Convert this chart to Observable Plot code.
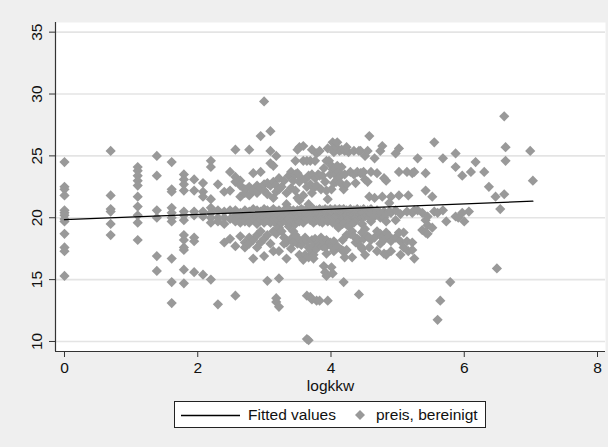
<!DOCTYPE html>
<html>
<head>
<meta charset="utf-8">
<script src="https://cdn.jsdelivr.net/npm/d3@7"></script>
<script src="https://cdn.jsdelivr.net/npm/@observablehq/plot@0.6"></script>
<style>
  html, body { margin: 0; padding: 0; background: #efefef; }
  #wrap { position: relative; width: 608px; height: 447px; background: #efefef; font-family: "Liberation Sans", Arial, sans-serif; }
  #chart { position: absolute; left: 0; top: 0; }
  #legend { position: absolute; left: 174px; top: 401px; width: 312px; height: 27px; background: #fff; border: 1px solid #222; box-sizing: border-box; font-size: 15.5px; color: #111; }
  #legend span, #legend svg { position: absolute; }
</style>
</head>
<body>
<div id="wrap">
  <div id="chart"></div>
  <div id="legend">
    <svg style="left:6px; top:6px" width="60" height="14"><line x1="0" x2="59" y1="7.5" y2="7.5" stroke="#000" stroke-width="1.3"/></svg>
    <span style="left:73px; top:4px">Fitted values</span>
    <svg style="left:180px; top:8px" width="10" height="10"><path d="M5,0L10,5L5,10L0,5Z" fill="#999"/></svg>
    <span style="left:201px; top:4px">preis, bereinigt</span>
  </div>
</div>
<script>
// x axis ticks, y axis ticks
const xTicks = [0, 2, 4, 6, 8];
const yTicks = [10, 15, 20, 25, 30, 35];

// Fitted values (regression line endpoints)
const fitX = [0, 7.03];
const fitY = [19.85, 21.34];

// preis, bereinigt vs logkkw: columns [logkkw, [preis values]]
const colsSmall = [
  [0, [24.5, 22.5, 22.3, 21.8, 20.6, 20.4, 20.2, 19.9, 19.7, 18.7, 17.6, 17.3, 15.3]],
  [0.693, [25.4, 21.8, 20.7, 20.5, 19.5, 18.6]],
  [1.099, [24.1, 23.8, 23.4, 23.0, 22.6, 21.7, 20.9, 20.2, 19.6, 18.2]],
  [1.386, [25.0, 23.4, 20.6, 20.0, 16.9, 15.7]],
  [1.609, [24.5, 22.3, 22.1, 20.8, 20.4, 20.0, 19.7, 16.7, 14.8, 13.1]],
  [1.792, [23.5, 23.1, 22.7, 22.2, 20.5, 20.2, 19.8, 18.6, 18.2, 17.6, 17.4, 15.8, 14.7]],
  [1.946, [23.1, 22.2, 20.5, 20.2, 18.4, 18.1, 15.6]],
  [2.079, [22.8, 22.1, 21.7, 20.5, 20.1, 15.4]],
  [2.197, [24.6, 24.1, 21.5, 20.8, 20.4, 20.0, 19.6, 15.0]],
  [2.303, [22.7, 20.6, 20.0, 19.7, 13.0]],
  [2.398, [22.1, 20.5, 20.0, 19.5, 18.0]],
  [2.485, [23.7, 22.2, 20.6, 19.9, 18.3]]
];
const colsMidA = [
  [2.565, [25.5, 23.3, 22.9, 20.6, 20.2, 19.7, 17.7, 13.7]],
  [2.639, [23.0, 22.6, 21.7, 20.4, 20.0, 19.6, 18.5]],
  [2.708, [22.3, 22.0, 20.6, 20.1, 19.7, 18.0, 17.6]],
  [2.773, [25.5, 22.5, 21.8, 20.5, 20.0, 19.6, 18.4, 17.9]],
  [2.833, [23.6, 22.2, 20.7, 20.3, 19.9, 18.2, 16.7]],
  [2.890, [22.6, 22.0, 20.6, 20.1, 19.5, 18.6, 17.6]],
  [2.944, [26.6, 23.7, 22.4, 20.5, 20.2, 19.8, 18.9, 18.0]],
  [2.996, [29.4, 22.7, 22.2, 20.7, 20.3, 20.0, 19.6, 18.3, 16.9]],
  [3.045, [22.8, 21.9, 20.6, 20.2, 19.8, 18.6, 14.9]],
  [3.091, [27.0, 25.4, 24.4, 22.6, 20.5, 20.1, 19.6, 17.9]],
  [3.135, [24.2, 22.9, 21.6, 20.7, 20.3, 19.9, 18.9, 17.3]],
  [3.178, [25.0, 22.6, 22.1, 20.5, 20.0, 19.5, 18.7, 13.5, 13.2]],
  [3.219, [23.2, 22.3, 20.6, 20.2, 19.8, 19.2, 17.3, 15.1, 12.8]],
  [3.258, [22.5, 20.4, 20.0, 19.6, 18.9]],
  [3.296, [23.0, 20.6, 20.2, 19.8, 18.4, 17.9]],
  [3.332, [22.0, 21.1, 20.5, 20.1, 19.7, 18.0, 16.7]],
  [3.367, [23.4, 20.7, 20.3, 19.9, 19.3]],
  [3.401, [23.7, 22.4, 20.5, 20.1, 19.7, 18.3, 17.5]],
  [3.434, [23.0, 20.6, 20.2, 19.8, 18.9, 18.0]],
  [3.466, [24.6, 23.5, 22.2, 20.4, 20.0, 19.5, 18.6]],
  [3.497, [25.5, 23.6, 21.6, 20.6, 20.2, 19.9, 17.9]],
  [3.526, [25.7, 22.9, 21.4, 20.5, 20.1, 19.7, 18.2, 17.0]],
  [3.555, [23.2, 20.7, 20.3, 19.8, 17.8]],
  [3.584, [25.8, 24.6, 21.8, 20.6, 20.2, 19.6, 18.1, 16.6]],
  [3.611, [23.1, 20.4, 20.0, 18.4, 17.0]],
  [3.638, [24.6, 22.5, 20.7, 20.3, 19.9, 18.1, 13.7, 10.2]],
  [3.664, [23.4, 21.1, 20.5, 20.1, 17.6, 16.8, 10.1]],
  [3.689, [24.6, 22.7, 20.6, 20.2, 19.8, 17.4, 13.6]],
  [3.714, [25.5, 23.5, 22.0, 20.4, 20.0, 18.2, 13.4]],
  [3.738, [22.4, 20.7, 20.3, 19.6, 17.8, 17.0, 16.7]]
];
const colsMidB = [
  [3.761, [24.6, 23.2, 20.5, 20.1, 18.3]],
  [3.784, [25.2, 22.6, 20.6, 20.2, 19.8, 17.5, 13.3]],
  [3.807, [23.5, 20.4, 20.0, 18.0]],
  [3.829, [25.4, 23.4, 20.7, 20.3, 19.7, 17.8, 13.3]],
  [3.850, [22.3, 20.5, 20.1, 18.4]],
  [3.871, [23.4, 20.6, 20.2, 19.6, 17.7]],
  [3.892, [24.0, 20.4, 20.0, 18.1, 16.1]],
  [3.912, [22.9, 20.7, 20.3, 19.9, 17.6, 15.6]],
  [3.932, [24.6, 22.2, 20.5, 20.1, 18.2, 17.1, 15.3]],
  [3.951, [25.6, 21.5, 20.6, 20.2, 19.7, 13.3]],
  [3.970, [24.6, 20.4, 20.0, 17.9]],
  [3.989, [23.5, 20.7, 20.3, 19.8, 18.0]],
  [4.007, [24.2, 22.3, 20.5, 20.1, 17.8, 16.0]],
  [4.025, [26.1, 25.6, 23.9, 20.6, 20.2, 19.6, 17.6, 15.5]],
  [4.043, [25.3, 22.8, 20.4, 20.0, 18.1, 17.3]],
  [4.060, [24.0, 23.5, 20.7, 20.3, 19.9]],
  [4.078, [25.7, 22.9, 20.5, 20.1, 19.5]],
  [4.094, [26.1, 24.2, 23.1, 20.6, 20.2, 17.7]],
  [4.111, [23.7, 20.4, 20.0, 19.2]],
  [4.127, [25.4, 23.3, 20.7, 20.3]],
  [4.143, [22.8, 20.5, 20.1, 19.7]],
  [4.159, [25.5, 24.1, 20.6, 20.2, 17.4]],
  [4.174, [20.4, 20.0, 19.5, 18.2]],
  [4.190, [22.3, 20.7, 20.3, 19.9, 17.3, 14.8]],
  [4.205, [25.4, 23.5, 20.5, 20.1, 19.6, 16.8]],
  [4.234, [25.7, 22.7, 20.6, 20.2, 18.6, 17.4]],
  [4.263, [25.3, 20.4, 20.0, 19.3]],
  [4.290, [23.7, 20.7, 20.3, 19.8, 18.7]],
  [4.317, [20.5, 20.1, 18.9, 16.8]],
  [4.344, [25.4, 23.5, 20.6, 20.2, 19.6, 18.5]]
];
const colsLarge = [
  [4.369, [22.8, 20.4, 20.0, 18.0]],
  [4.394, [23.7, 20.7, 20.3, 19.9, 18.3]],
  [4.419, [25.4, 20.5, 20.1, 18.2, 13.8]],
  [4.443, [25.4, 23.6, 20.6, 20.2, 17.7]],
  [4.466, [23.6, 20.4, 20.0, 19.5, 18.8, 17.5]],
  [4.489, [23.7, 20.7, 20.3, 18.3]],
  [4.511, [25.0, 23.1, 20.5, 20.1, 19.1, 17.0]],
  [4.550, [25.4, 22.9, 20.6, 20.2, 18.5]],
  [4.575, [26.6, 21.7, 20.4, 20.0, 18.4, 17.6]],
  [4.600, [23.7, 20.7, 20.3, 19.7, 18.2]],
  [4.654, [24.8, 21.6, 20.5, 20.1, 18.4]],
  [4.691, [23.6, 20.6, 18.9, 17.3]],
  [4.740, [25.4, 20.4, 20.0, 18.7, 17.9]],
  [4.770, [25.8, 21.7, 20.2, 18.4]],
  [4.796, [23.2, 20.5, 20.0, 18.2, 17.1]],
  [4.828, [23.0, 20.3, 19.7, 18.8, 17.0]],
  [4.875, [21.2, 20.5, 18.5]],
  [4.900, [21.7, 20.4, 18.1, 17.3]],
  [4.970, [25.2, 20.6, 19.8, 18.4]],
  [5.020, [25.6, 23.7, 21.8, 18.8]],
  [5.043, [20.3, 18.1, 17.0]],
  [5.090, [18.8, 17.6]],
  [5.140, [23.7, 20.5, 18.1]],
  [5.160, [21.8, 17.3]],
  [5.220, [23.6, 20.4, 18.0, 17.4]],
  [5.250, [23.7, 20.6, 16.7]],
  [5.300, [24.8, 20.6]],
  [5.370, [20.4, 19.0]],
  [5.420, [23.6, 22.2, 19.8, 18.8]],
  [5.450, [20.1, 19.4, 18.7]],
  [5.520, [21.7, 19.2]],
  [5.550, [26.1, 20.5]],
  [5.600, [20.4, 11.75]],
  [5.640, [13.3]],
  [5.680, [24.8, 20.6]],
  [5.730, [19.7]],
  [5.790, [14.8]],
  [5.870, [25.2, 24.1, 20.1]],
  [5.910, [20.0]],
  [5.970, [23.4, 20.4]],
  [6.000, [19.7]],
  [6.070, [20.5]],
  [6.100, [23.7]],
  [6.170, [24.5]],
  [6.300, [23.7]],
  [6.370, [22.5]],
  [6.470, [21.7]],
  [6.490, [15.9]],
  [6.540, [20.7]],
  [6.600, [28.2, 21.9]],
  [6.620, [25.7, 24.6]],
  [6.990, [25.4]],
  [7.030, [23.0]]
];

const points = [...colsSmall, ...colsMidA, ...colsMidB, ...colsLarge]
  .flatMap(([x, ys]) => ys.map(y => ({logkkw: x, preis: y})));
const fitted = fitX.map((x, i) => ({logkkw: x, fit: fitY[i]}));

const xDomain = [-0.135, 8.12];
const yDomain = [9.19, 35.78];

const chart = Plot.plot({
  width: 608,
  height: 394,
  marginLeft: 55,
  marginRight: 3,
  marginTop: 22,
  marginBottom: 43,
  style: {background: "transparent", fontFamily: "'Liberation Sans', Arial, sans-serif", fontSize: "15.5px", color: "#111"},
  x: {domain: xDomain},
  y: {domain: yDomain},
  marks: [
    Plot.frame({fill: "white", stroke: "none"}),
    Plot.ruleY(yTicks, {stroke: "#e4e4e4", strokeWidth: 1.6}),
    Plot.dot(points, {x: "logkkw", y: "preis", symbol: "diamond2", r: 4.6, fill: "#999999", stroke: "none"}),
    Plot.line(fitted, {x: "logkkw", y: "fit", stroke: "#000", strokeWidth: 1.3}),
    Plot.ruleX([xDomain[0]], {stroke: "#333", strokeWidth: 1.2}),
    Plot.ruleY([yDomain[0]], {stroke: "#333", strokeWidth: 1.2}),
    Plot.axisX({ticks: xTicks, tickSize: 6, tickPadding: 4, label: null, stroke: "#333", tickFormat: d => String(d)}),
    Plot.axisY({ticks: yTicks, tickSize: 6, label: null, stroke: "#333", tickFormat: () => ""}),
    Plot.text(yTicks, {y: d => d, frameAnchor: "left", dx: -18, rotate: -90, text: d => String(d), textAnchor: "middle", lineAnchor: "middle", fill: "#111"}),
    Plot.text(["logkkw"], {frameAnchor: "bottom", dy: 35, text: d => d, textAnchor: "middle", lineAnchor: "middle", fill: "#111"})
  ]
});
document.getElementById("chart").appendChild(chart);
</script>
</body>
</html>
